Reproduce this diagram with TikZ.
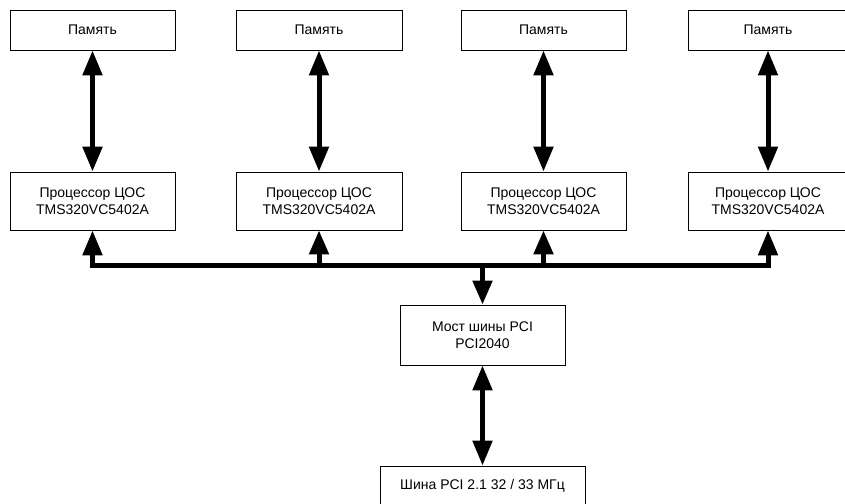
\documentclass[tikz,border=0pt]{standalone}
\usepackage{fontspec}
\setmainfont{Liberation Sans}
\usetikzlibrary{arrows.meta}

\begin{document}
\begin{tikzpicture}[x=1pt, y=-1pt,
		every node/.style={ draw, rectangle, line width=0.8pt,
				% fill=white,
				align=center, inner sep=0pt,
				font=\fontsize{14}{17}\selectfont },
		mem/.style={ minimum height=40pt },
		cpu/.style={ minimum height=58pt },
		link/.style={ line width=5pt,
				{Triangle[length=25pt,width=19pt]}-{Triangle[length=25pt,width=19pt]} },
		uplink/.style={ line width=5pt, -{Triangle[length=24pt,width=19pt]} } ]

	\useasboundingbox (0,0) rectangle (845,503);

	\node[mem, minimum width=165pt] (m1) at (92.5,30) {Память};
	\node[mem, minimum width=166pt] (m2) at (319,30) {Память};
	\node[mem, minimum width=165pt] (m3) at (543.5,30) {Память};
	\node[mem, minimum width=160pt] (m4) at (768,30) {Память};

	\node[cpu, minimum width=165pt] (p1) at (92.5,201) {Процессор ЦОС\\TMS320VC5402A};
	\node[cpu, minimum width=166pt] (p2) at (319,201) {Процессор ЦОС\\TMS320VC5402A};
	\node[cpu, minimum width=165pt] (p3) at (543.5,201) {Процессор ЦОС\\TMS320VC5402A};
	\node[cpu, minimum width=160pt] (p4) at (768,201) {Процессор ЦОС\\TMS320VC5402A};

	\node[minimum width=165pt, minimum height=60pt] (br) at (482.5,335) {Мост шины PCI\\PCI2040};
	\node[minimum width=205pt, minimum height=40pt] (pci) at (482.5,486) {Шина PCI 2.1 32 / 33 МГц};

	\coordinate (b1) at (92.5,265);
	\coordinate (b2) at (319,265);
	\coordinate (b3) at (543.5,265);
	\coordinate (b4) at (768,265);
	\coordinate (bb) at (482.5,265);

	\draw[link] (m1) -- (p1);
	\draw[link] (m2) -- (p2);
	\draw[link] (m3) -- (p3);
	\draw[link] (m4) -- (p4);

	\draw[link, line join=miter] (p1) -- (b1) -- (b4) -- (p4);
	\draw[uplink] (b2) -- (p2);
	\draw[uplink] (b3) -- (p3);
	\draw[uplink] (bb) -- (br);

	\draw[link] (br) -- (pci);
\end{tikzpicture}
\end{document}
